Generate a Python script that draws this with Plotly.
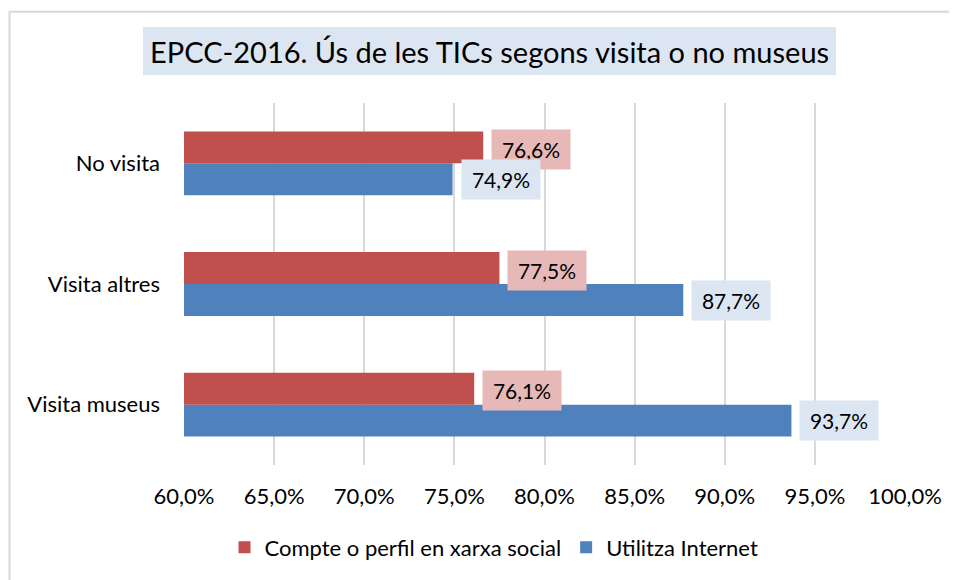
import plotly.graph_objects as go

categories = ["No visita", "Visita altres", "Visita museus"]
social = [76.6, 77.5, 76.1]
internet = [74.9, 87.7, 93.7]
series_names = ["Compte o perfil en xarxa social", "Utilitza Internet"]
title_text = "EPCC-2016. Ús de les TICs segons visita o no museus"

RED = "#C0504D"
BLUE = "#4F81BD"
RED_BG = "#E6B9B8"
BLUE_BG = "#DCE6F2"
FONT = "Lato, 'Noto Sans', sans-serif"

# the page body has an 8px default margin; the figure is sized to fill the rest
W, H = 949, 572
OFF = 8
PL, PR, PT, PB = 184 - OFF, 905 - OFF, 103 - OFF, 465.5 - OFF


def px_x(x):  # reference pixel -> paper
    return (x - OFF - PL) / (PR - PL)


def px_y(y):
    return (PB - (y - OFF)) / (PB - PT)


def fmt(v):
    return f"{v:.1f}".replace(".", ",") + "%"


fig = go.Figure()
fig.add_trace(go.Bar(y=categories, x=internet, orientation="h", name=series_names[1],
                     marker=dict(color=BLUE, line=dict(width=0))))
fig.add_trace(go.Bar(y=categories, x=social, orientation="h", name=series_names[0],
                     marker=dict(color=RED, line=dict(width=0))))

annotations = []
for c, v in zip(categories, social):
    annotations.append(dict(x=v, y=c, xref="x", yref="y", text=fmt(v), showarrow=False,
                            xanchor="left", yanchor="middle", xshift=8, yshift=14,
                            width=76, height=37, bgcolor=RED_BG,
                            font=dict(family=FONT, size=21, color="#000000")))
for c, v in zip(categories, internet):
    annotations.append(dict(x=v, y=c, xref="x", yref="y", text=fmt(v), showarrow=False,
                            xanchor="left", yanchor="middle", xshift=8, yshift=-16,
                            width=76, height=37, bgcolor=BLUE_BG,
                            font=dict(family=FONT, size=21, color="#000000")))

annotations.append(dict(x=px_x(489.5), y=px_y(51), xref="paper", yref="paper",
                        text=title_text, showarrow=False, xanchor="center", yanchor="middle",
                        font=dict(family=FONT, size=29, color="#000000")))

shapes = [
    dict(type="rect", xref="paper", yref="paper", layer="below",
         x0=px_x(143), x1=px_x(836), y0=px_y(75), y1=px_y(27),
         fillcolor=BLUE_BG, line=dict(width=0)),
    dict(type="rect", xref="paper", yref="paper", layer="below",
         x0=px_x(9.5), x1=px_x(975), y0=px_y(600), y1=px_y(11.5),
         fillcolor="rgba(0,0,0,0)", line=dict(color="#D9D9D9", width=2)),
]

fig.update_layout(
    width=W, height=H,
    margin=dict(l=PL, r=W - PR, t=PT, b=H - PB, autoexpand=False),
    paper_bgcolor="white", plot_bgcolor="white",
    separators=",.",
    barmode="group", bargap=0.471, bargroupgap=0,
    font=dict(family=FONT, size=22, color="#000000"),
    showlegend=True,
    legend=dict(orientation="h", x=px_x(494), y=px_y(548),
                xanchor="center", yanchor="middle", traceorder="reversed",
                font=dict(family=FONT, size=22), itemwidth=30),
    annotations=annotations,
    shapes=shapes,
)
fig.update_xaxes(range=[60, 100], dtick=5, tick0=60, tickformat=".1f", ticksuffix="%",
                 showgrid=True, gridcolor="#D9D9D9", gridwidth=2, zeroline=False,
                 showline=False, ticks="", ticklabelstandoff=16,
                 tickfont=dict(family=FONT, size=22))
fig.update_yaxes(categoryorder="array", categoryarray=categories[::-1],
                 showgrid=False, showline=False, ticks="",
                 ticklabelstandoff=23, tickfont=dict(family=FONT, size=22))

fig.write_html("out.html")
